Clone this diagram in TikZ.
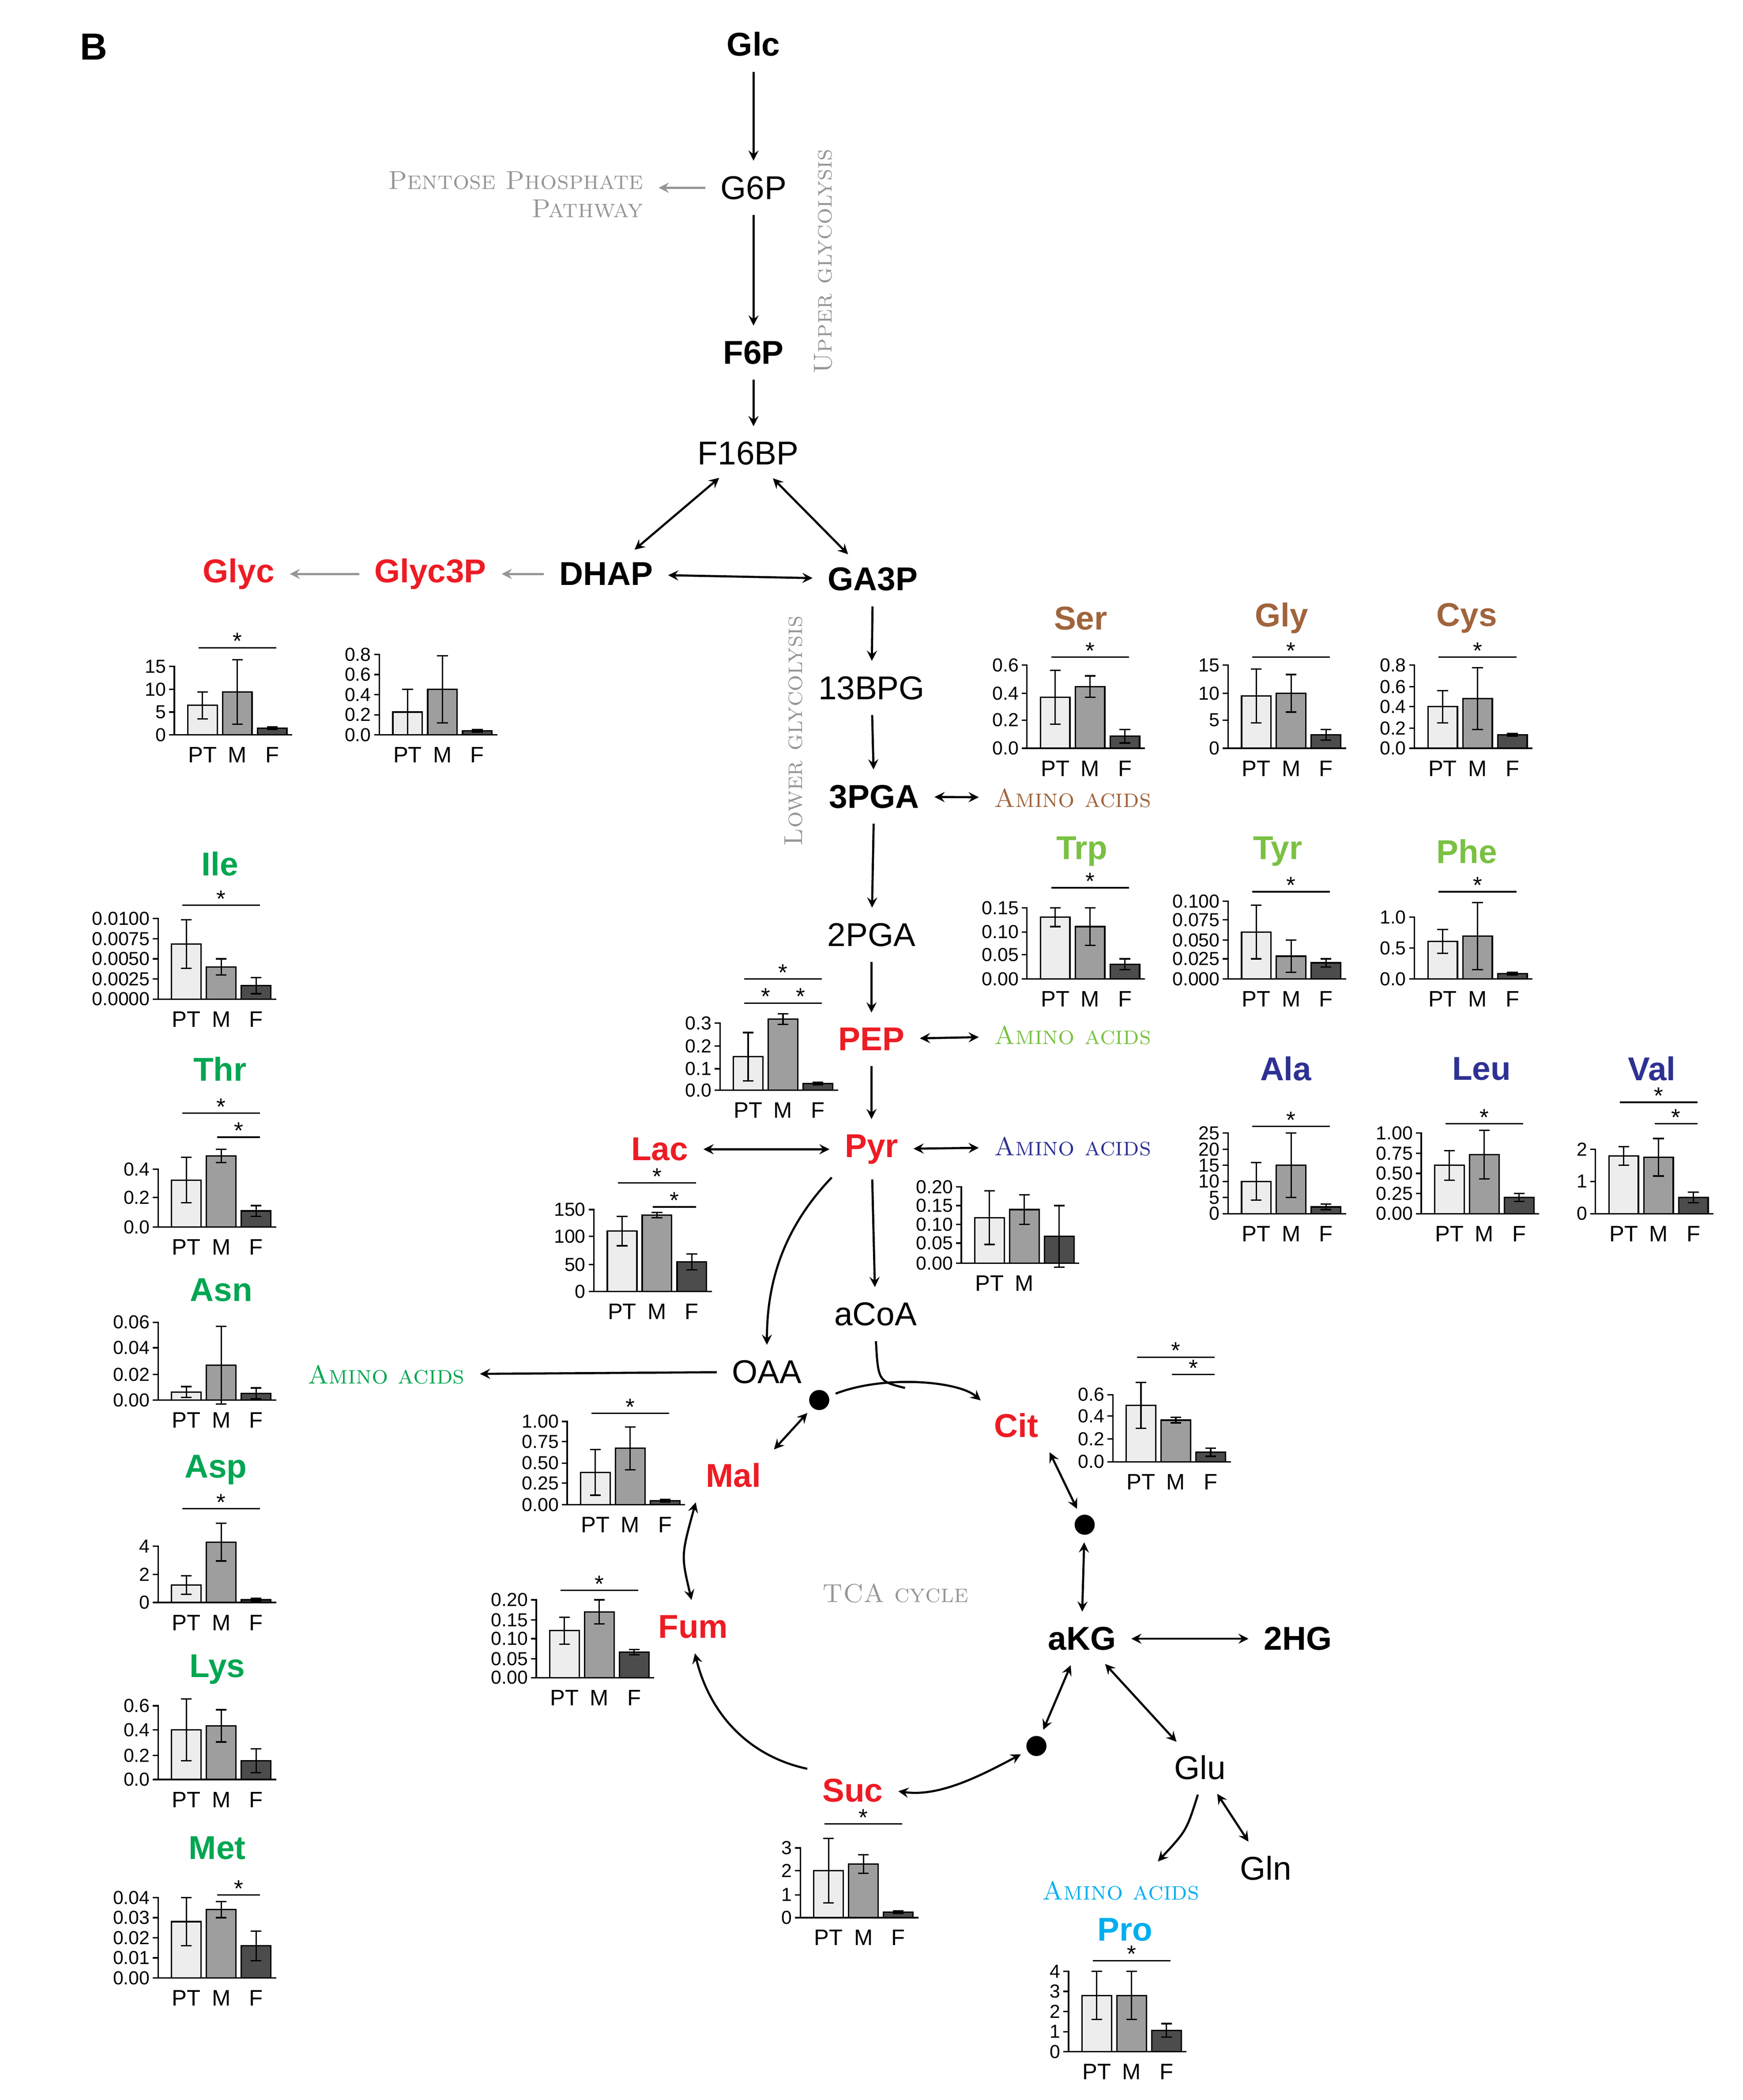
\documentclass[tikz,border=0pt]{standalone}
\usepackage{fontspec}
\setsansfont{Liberation Sans}
\usetikzlibrary{positioning}
\tikzset{>=stealth}
\definecolor{metred}{RGB}{237,28,36}
\definecolor{aabrown}{RGB}{160,100,60}
\definecolor{aagreen}{RGB}{0,166,81}
\definecolor{aalime}{RGB}{122,193,67}
\definecolor{aablue}{RGB}{46,49,146}
\definecolor{aacyan}{RGB}{0,174,239}
\definecolor{note}{RGB}{150,150,150}
\definecolor{barA}{gray}{0.93}
\definecolor{barB}{gray}{0.62}
\definecolor{barC}{gray}{0.30}
\tikzset{
	met/.style={font=\sffamily\fontsize{14}{16}\selectfont},
	key/.style={font=\sffamily\bfseries\fontsize{14}{16}\selectfont},
	hit/.style={key,text=metred},
	aa/.style={key,text=#1},
	route/.style={font=\rmfamily\scshape\fontsize{11}{12}\selectfont,text=#1},
	ytick/.style={left,inner sep=1pt,font=\sffamily\fontsize{8}{9}\selectfont},
	xlab/.style={font=\sffamily\fontsize{9.5}{10}\selectfont},
	star/.style={inner sep=1pt,font=\sffamily\fontsize{10}{10}\selectfont},
	flow/.style={->,line width=0.9pt,shorten >=3pt,shorten <=3pt},
	both/.style={<->,line width=0.9pt,shorten >=3pt,shorten <=3pt},
	side/.style={->,line width=0.9pt,note,shorten >=3pt,shorten <=3pt},
	hub/.style={circle,fill=black,inner sep=0pt,minimum size=3mm},
}
% significance bar between bar #1 and bar #2 at height #3
\newcommand{\sig}[3]{\draw[line width=0.6pt] (21+26*#1-26-3,-#3) -- (21+26*#2-26+3,-#3) node[midway,above=-2pt,star] {*};}
% bar chart: origin, ticks, bars h/e/colour, extras, x labels
\newcommand{\barplot}[5]{%
	\begin{scope}[shift={(#1)},line width=0.6pt]
		\foreach \lab/\p in {#2} {\draw (0,0) -- (0,-\p) -- (-4,-\p) node[ytick] {\lab};}
		\foreach \h/\e/\c [count=\i] in {#3} {
			\pgfmathsetmacro\xl{10+26*(\i-1)}
			\draw[fill=\c] (\xl,0) rectangle (\xl+22,-\h);
			\draw (\xl+11,-\h+\e) -- (\xl+11,-\h-\e);
			\draw (\xl+7,-\h+\e) -- (\xl+15,-\h+\e) (\xl+7,-\h-\e) -- (\xl+15,-\h-\e);
		}
		\draw (0,0) -- (88,0);
		\foreach \t [count=\i] in {#5} {\node[xlab] at (21+26*\i-26,15) {\t};}
		#4
	\end{scope}}

\begin{document}
\begin{tikzpicture}[x=0.02cm,y=-0.02cm]
	\useasboundingbox (0,0) rectangle (1300,1566);
	\node[font=\sffamily\bfseries\fontsize{16}{18}\selectfont] (panel) at (70,35) {B};
	
	% glycolysis
	\node[key] (glc) at (562,33) {Glc};
	\node[met] (g6p) at (562,140) {G6P};
	\node[key] (f6p) at (562,263) {F6P};
	\node[met] (f16bp) at (558,338) {F16BP};
	\node[key] (dhap) at (452,428) {DHAP};
	\node[key] (ga3p) at (651,432) {GA3P};
	\node[hit] (glyc3p) at (321,428) {Glyc3P};
	\node[hit] (glyc) at (178,428) {Glyc};
	\node[met] (bpg) at (650,513) {13BPG};
	\node[key] (pga3) at (652,594) {3PGA};
	\node[met] (pga2) at (650,697) {2PGA};
	\node[hit] (pep) at (650,775) {PEP};
	\node[hit] (pyr) at (650,857) {Pyr};
	\node[hit] (lac) at (492,857) {Lac};
	\node[met] (acoa) at (653,980) {aCoA};
	\node[met] (oaa) at (572,1023) {OAA};
	
	% tca cycle
	\node[hit] (cit) at (758,1063) {Cit};
	\node[hit] (mal) at (547,1100) {Mal};
	\node[hit] (fum) at (517,1213) {Fum};
	\node[hit] (suc) at (636,1335) {Suc};
	\node[key] (akg) at (807,1222) {aKG};
	\node[key] (hg) at (968,1222) {2HG};
	\node[met] (glu) at (895,1318) {Glu};
	\node[met] (gln) at (944,1393) {Gln};
	\node[hub] (d1) at (611,1044) {};
	\node[hub] (d2) at (809,1137) {};
	\node[hub] (d3) at (773,1302) {};
	\coordinate (join) at (675,1035);
	\coordinate (aatip) at (860,1392);
	
	% pathway notes
	\node[route=note,align=right,anchor=east] (ppp) at (486,145) {Pentose Phosphate\\Pathway};
	\node[route=note,rotate=90] (upper) at (614,195) {Upper glycolysis};
	\node[route=note,rotate=90] (lower) at (592,545) {Lower glycolysis};
	\node[route=note] (tca) at (668,1188) {TCA cycle};
	\node[route=aabrown] (aa3pga) at (800,595) {Amino acids};
	\node[route=aalime] (aapep) at (800,772) {Amino acids};
	\node[route=aablue] (aapyr) at (800,855) {Amino acids};
	\node[route=aagreen] (aaoaa) at (288,1025) {Amino acids};
	\node[route=aacyan] (aaglu) at (836,1410) {Amino acids};
	
	% amino acid titles
	\node[aa=aabrown] (ser) at (806,461) {Ser};
	\node[aa=aabrown] (gly) at (956,461) {Gly};
	\node[aa=aabrown] (cys) at (1094,461) {Cys};
	\node[aa=aalime] (trp) at (807,635) {Trp};
	\node[aa=aalime] (tyr) at (953,635) {Tyr};
	\node[aa=aalime] (phe) at (1094,635) {Phe};
	\node[aa=aagreen] (ile) at (164,644) {Ile};
	\node[aa=aagreen] (thr) at (164,797) {Thr};
	\node[aa=aagreen] (asn) at (165,962) {Asn};
	\node[aa=aagreen] (asp) at (161,1096) {Asp};
	\node[aa=aagreen] (lys) at (162,1245) {Lys};
	\node[aa=aagreen] (metn) at (162,1378) {Met};
	\node[aa=aablue] (ala) at (959,797) {Ala};
	\node[aa=aablue] (leu) at (1105,797) {Leu};
	\node[aa=aablue] (val) at (1232,797) {Val};
	\node[aa=aacyan] (pro) at (839,1439) {Pro};
	
	% connectors
	\draw[flow] (glc) -- (g6p);
	\draw[side] (g6p) -- (ppp.east |- g6p);
	\draw[flow] (g6p) -- (f6p);
	\draw[flow] (f6p) -- (f16bp.north -| f6p);
	\draw[both] (f16bp) -- (dhap);
	\draw[both] (f16bp) -- (ga3p);
	\draw[both] (dhap) -- (ga3p);
	\draw[side] (dhap) -- (glyc3p);
	\draw[side] (glyc3p) -- (glyc);
	\draw[flow] (ga3p) -- (bpg);
	\draw[flow] (bpg) -- (pga3);
	\draw[both] (pga3) -- (aa3pga);
	\draw[flow] (pga3) -- (pga2);
	\draw[flow] (pga2) -- (pep);
	\draw[both] (pep) -- (aapep);
	\draw[flow] (pep) -- (pyr);
	\draw[both] (lac) -- (pyr);
	\draw[both] (pyr) -- (aapyr);
	\draw[flow] (pyr) -- (acoa);
	\draw[flow] (pyr.south west) .. controls (585,915) and (572,955) .. (oaa.north);
	\draw[flow] (oaa) -- (aaoaa);
	\draw[flow] (d1) .. controls (660,1025) and (715,1030) .. (cit.north west);
	\draw[line width=0.9pt,shorten <=3pt] (acoa.south) .. controls (655,1030) .. (join);
	\draw[both] (d1) -- (mal.north east);
	\draw[both] (cit.south east) -- (d2);
	\draw[both] (d2) -- (akg.north);
	\draw[both] (akg) -- (hg);
	\draw[both] (akg) -- (d3);
	\draw[both] (akg) -- (glu);
	\draw[both] (d3) .. controls (730,1325) and (700,1340) .. (suc.east);
	\draw[flow] (suc.north west) .. controls (560,1310) and (530,1280) .. (fum.south);
	\draw[both] (fum.north) .. controls (508,1160) .. (mal.south west);
	\draw[flow] (glu.south) .. controls (885,1365) .. (aatip);
	\draw[both] (glu) -- (gln);
	
	% bar charts
	\barplot{130,548}{0/0,5/17,10/34,15/51}{22/10/barA,32/24/barB,5/1/barC}{\sig{1}{3}{65}}{PT,M,F}
	\barplot{283,548}{0.0/0,0.2/15,0.4/30,0.6/45,0.8/60}{17/17/barA,34/25/barB,3/1/barC}{}{PT,M,F}
	\barplot{766,558}{0.0/0,0.2/21,0.4/41,0.6/62}{38/20/barA,46/8/barB,9/5/barC}{\sig{1}{3}{68}}{PT,M,F}
	\barplot{916,558}{0/0,5/21,10/41,15/62}{39/20/barA,41/14/barB,10/4/barC}{\sig{1}{3}{68}}{PT,M,F}
	\barplot{1055,558}{0.0/0,0.2/15,0.4/31,0.6/46,0.8/62}{31/12/barA,37/23/barB,10/1/barC}{\sig{1}{3}{68}}{PT,M,F}
	\barplot{118,745}{0.0000/0,0.0025/15,0.0050/30,0.0075/45,0.0100/60}{41/18/barA,24/6/barB,10/6/barC}{\sig{1}{3}{70}}{PT,M,F}
	\barplot{766,730}{0.00/0,0.05/18,0.10/35,0.15/53}{46/7/barA,39/14/barB,11/4/barC}{\sig{1}{3}{68}}{PT,M,F}
	\barplot{916,730}{0.000/0,0.025/15,0.050/29,0.075/44,0.100/58}{35/20/barA,17/12/barB,12/3/barC}{\sig{1}{3}{65}}{PT,M,F}
	\barplot{1055,730}{0.0/0,0.5/23,1.0/46}{28/9/barA,32/25/barB,4/1/barC}{\sig{1}{3}{65}}{PT,M,F}
	\barplot{537,813}{0.0/0,0.1/16,0.2/33,0.3/50}{25/18/barA,53/4/barB,5/1/barC}{\sig{1}{3}{83}\sig{1}{2}{65}\sig{2}{3}{65}}{PT,M,F}
	\barplot{118,915}{0.0/0,0.2/22,0.4/43}{35/17/barA,53/5/barB,12/4/barC}{\sig{1}{3}{85}\sig{2}{3}{67}}{PT,M,F}
	\barplot{443,963}{0/0,50/20,100/41,150/61}{45/11/barA,57/2/barB,22/6/barC}{\sig{1}{3}{81}\sig{2}{3}{63}}{PT,M,F}
	\barplot{717,942}{0.00/0,0.05/15,0.10/29,0.15/43,0.20/57}{34/20/barA,40/11/barB,20/23/barC}{}{PT,M}
	\barplot{916,905}{0/0,5/12,10/24,15/36,20/48,25/60}{24/14/barA,36/24/barB,5/2/barC}{\sig{1}{3}{65}}{PT,M,F}
	\barplot{1060,905}{0.00/0,0.25/15,0.50/30,0.75/45,1.00/60}{36/11/barA,44/18/barB,12/3/barC}{\sig{1}{3}{67}}{PT,M,F}
	\barplot{1190,905}{0/0,1/24,2/48}{43/7/barA,42/14/barB,12/4/barC}{\sig{1}{3}{83}\sig{2}{3}{67}}{PT,M,F}
	\barplot{118,1044}{0.00/0,0.02/19,0.04/39,0.06/58}{6/4/barA,26/29/barB,5/4/barC}{}{PT,M,F}
	\barplot{423,1122}{0.00/0,0.25/16,0.50/31,0.75/47,1.00/62}{24/17/barA,42/16/barB,3/1/barC}{\sig{1}{3}{68}}{PT,M,F}
	\barplot{830,1090}{0.0/0,0.2/17,0.4/34,0.6/50}{42/17/barA,31/2/barB,7/3/barC}{\sig{1}{3}{78}\sig{2}{3}{65}}{PT,M,F}
	\barplot{118,1195}{0/0,2/21,4/42}{13/7/barA,45/14/barB,2/1/barC}{\sig{1}{3}{70}}{PT,M,F}
	\barplot{400,1251}{0.00/0,0.05/14,0.10/29,0.15/43,0.20/58}{35/10/barA,49/9/barB,19/2/barC}{\sig{1}{3}{65}}{PT,M,F}
	\barplot{118,1327}{0.0/0,0.2/18,0.4/37,0.6/55}{37/23/barA,40/12/barB,14/9/barC}{}{PT,M,F}
	\barplot{597,1430}{0/0,1/17,2/35,3/52}{35/24/barA,40/7/barB,4/1/barC}{\sig{1}{3}{70}}{PT,M,F}
	\barplot{118,1475}{0.00/0,0.01/15,0.02/30,0.03/45,0.04/60}{42/18/barA,51/6/barB,24/11/barC}{\sig{2}{3}{62}}{PT,M,F}
	\barplot{797,1530}{0/0,1/15,2/30,3/45,4/60}{42/18/barA,42/18/barB,16/5/barC}{\sig{1}{3}{68}}{PT,M,F}
\end{tikzpicture}
\end{document}
